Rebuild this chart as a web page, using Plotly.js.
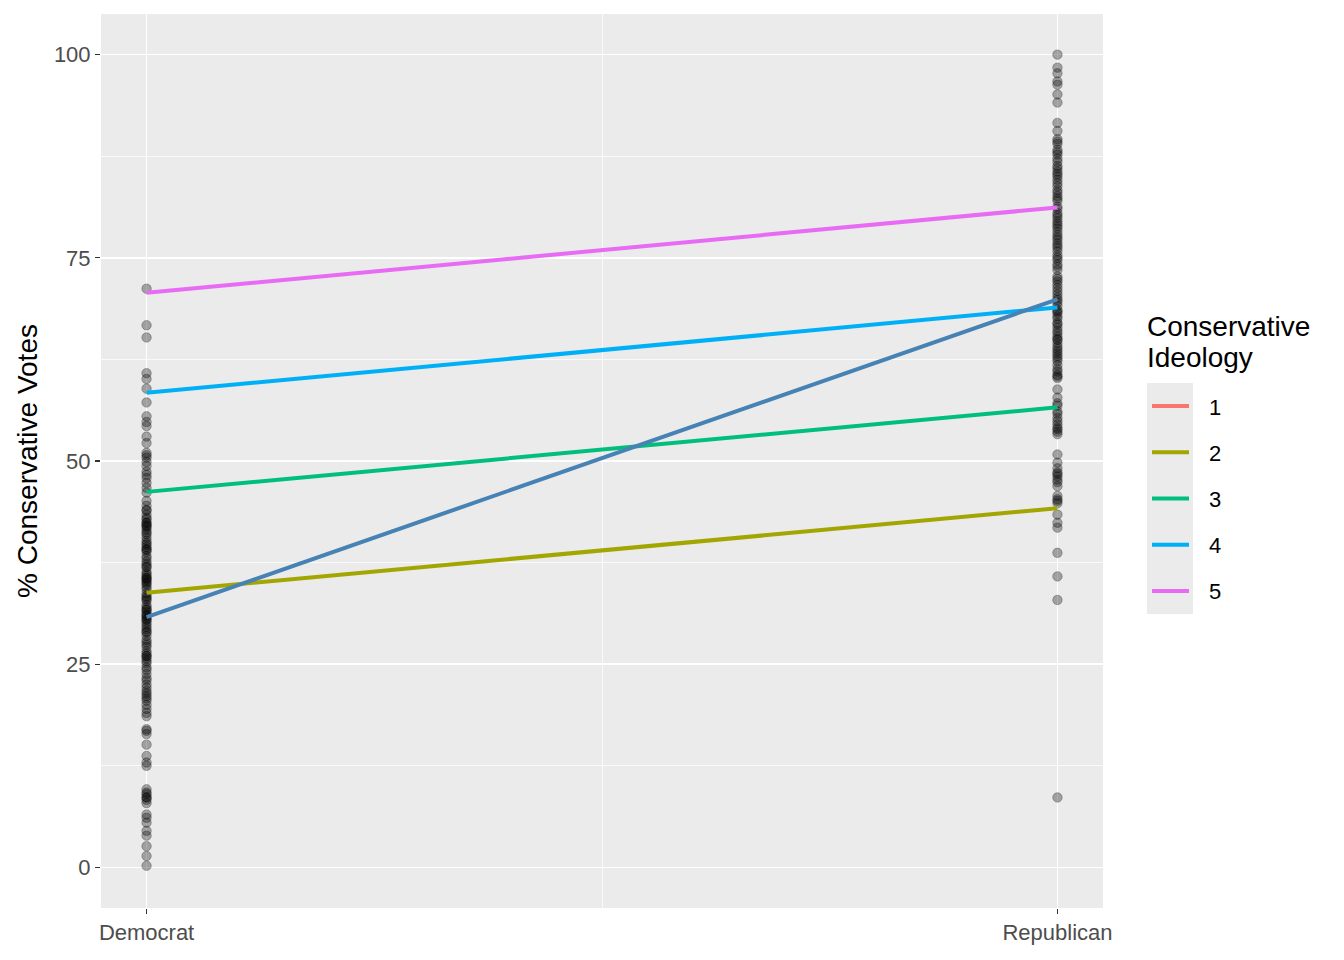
<!DOCTYPE html>
<html>
<head>
<meta charset="utf-8">
<script src="https://cdn.plot.ly/plotly-3.0.1.min.js"></script>
<style>html,body{margin:0;padding:0;background:#fff;} #chart{width:1344px;height:960px;}</style>
</head>
<body>
<div id="chart"></div>
<script>
// ---- data ----
const partyLabels = ["Democrat", "Republican"];
const partyPositions = [1, 2];

const democratVotes = [71.2, 66.7, 65.2, 60.8, 60.1, 58.9, 57.2, 55.5, 54.8, 54.3, 53.0, 52.2, 51.0, 50.7, 50.4, 49.9,
  49.4, 48.7, 48.3, 47.9, 47.3, 46.7, 46.1, 45.1, 44.5, 44.0, 43.9, 43.4, 43.0, 42.8, 42.4, 42.4, 42.1, 42.0,
  41.8, 41.5, 41.2, 41.0, 40.6, 40.2, 39.9, 39.7, 39.4, 39.1, 39.1, 38.8, 38.3, 38.0, 37.6, 37.3, 37.0, 36.9,
  36.4, 36.1, 35.9, 35.6, 35.6, 35.4, 35.2, 35.0, 34.8, 34.5, 34.2, 33.7, 33.4, 33.2, 33.0, 32.8, 32.3, 32.0,
  31.7, 31.7, 31.4, 31.1, 31.0, 30.8, 30.5, 30.5, 30.2, 29.9, 29.6, 29.3, 29.0, 28.9, 28.5, 28.0, 27.7, 27.4,
  27.1, 26.6, 26.3, 26.0, 26.0, 25.7, 25.4, 25.1, 24.6, 24.3, 23.8, 23.3, 23.0, 22.5, 22.1, 21.7, 21.4, 21.1,
  20.8, 20.5, 20.0, 19.5, 19.0, 18.6, 17.0, 16.8, 16.4, 15.1, 13.7, 12.9, 12.5, 9.6, 9.2, 9.0, 8.6, 8.6, 8.3,
  7.9, 6.5, 6.1, 5.5, 4.5, 3.9, 2.6, 1.4, 0.2];

const republicanVotes = [100.0, 98.4, 97.7, 96.7, 96.3, 95.1, 94.1, 91.6, 90.6, 89.6, 89.3, 89.0, 88.3, 88.0, 87.7,
  87.2, 86.8, 86.3, 86.0, 85.6, 85.3, 85.0, 84.6, 84.2, 83.8, 83.3, 83.0, 82.6, 82.3, 82.0, 81.3, 81.0, 80.5,
  80.2, 79.9, 79.5, 79.2, 78.9, 78.6, 78.2, 77.8, 77.5, 77.2, 76.8, 76.5, 76.2, 75.8, 75.3, 75.0, 74.7, 74.2,
  73.9, 73.5, 72.7, 72.4, 72.1, 71.7, 71.3, 70.9, 70.5, 70.1, 69.8, 69.5, 69.1, 68.6, 68.4, 68.2, 67.8, 67.5,
  67.0, 66.8, 66.4, 66.0, 65.7, 65.3, 65.0, 64.9, 64.5, 64.1, 63.8, 63.5, 63.2, 62.9, 62.6, 62.3, 61.8, 61.3,
  61.0, 60.6, 60.4, 60.2, 58.8, 57.8, 57.1, 56.8, 56.1, 55.8, 55.3, 54.9, 54.5, 54.1, 53.9, 53.6, 53.3, 50.8,
  49.8, 49.1, 48.6, 48.4, 48.1, 47.7, 47.4, 46.9, 45.7, 45.3, 45.1, 44.8, 43.4, 42.4, 41.8, 38.7, 35.8, 32.9, 8.6];

const ideologyLevels = ["1", "2", "3", "4", "5"];
const ideologyColors = ["#F8766D", "#A3A500", "#00BF7D", "#00B0F6", "#E76BF3"];
// fitted values per ideology level: [Democrat, Republican]; level 1 not drawn
const ideologyDem = [null, 33.8, 46.2, 58.4, 70.7];
const ideologyRep = [null, 44.2, 56.6, 68.9, 81.2];

const overallFit = [30.8, 69.9];

const yTicks = [0, 25, 50, 75, 100];
const legendTitleLines = ["Conservative", "Ideology"];

// ---- traces ----
const FONT = "Liberation Sans, Arial, sans-serif";
const traces = [];
const pointMarker = {size: 9.5, color: "rgba(0,0,0,0.32)", line: {width: 0.7, color: "rgba(0,0,0,0.38)"}};
traces.push({
  type: "scatter", mode: "markers",
  x: democratVotes.map(() => partyPositions[0]), y: democratVotes,
  marker: pointMarker, showlegend: false, hoverinfo: "y"
});
traces.push({
  type: "scatter", mode: "markers",
  x: republicanVotes.map(() => partyPositions[1]), y: republicanVotes,
  marker: pointMarker, showlegend: false, hoverinfo: "y"
});
ideologyLevels.forEach((lvl, i) => {
  if (ideologyDem[i] === null) return;
  traces.push({
    type: "scatter", mode: "lines",
    x: partyPositions, y: [ideologyDem[i], ideologyRep[i]],
    line: {color: ideologyColors[i], width: 4},
    showlegend: false, name: lvl
  });
});
traces.push({
  type: "scatter", mode: "lines",
  x: partyPositions, y: overallFit,
  line: {color: "#4682B4", width: 4},
  showlegend: false
});

// ---- manual ggplot-style legend ----
const px = x => (x - 101) / 1002;
const py = y => (908 - y) / 894;
const shapes = [];
const annotations = [];
const legX0 = 1147, legX1 = 1193, legTop = 383, itemH = 46.2;
shapes.push({type: "rect", xref: "paper", yref: "paper",
  x0: px(legX0), x1: px(legX1),
  y0: py(legTop + itemH * ideologyLevels.length), y1: py(legTop),
  fillcolor: "#EBEBEB", line: {width: 0}, layer: "below"});
ideologyLevels.forEach((lvl, i) => {
  const yc = legTop + itemH * (i + 0.5);
  shapes.push({type: "line", xref: "paper", yref: "paper",
    x0: px(1152), x1: px(1189), y0: py(yc), y1: py(yc),
    line: {color: ideologyColors[i], width: 4}});
  annotations.push({xref: "paper", yref: "paper", x: px(1207), y: py(yc + 1),
    text: lvl, showarrow: false, xanchor: "left", yanchor: "middle",
    font: {family: FONT, size: 22, color: "#000"}});
});
legendTitleLines.forEach((t, i) => {
  annotations.push({xref: "paper", yref: "paper", x: px(1145), y: py(327 + 30 * i),
    text: t, showarrow: false, xanchor: "left", yanchor: "middle", align: "left",
    font: {family: FONT, size: 28, color: "#000"}});
});

const layout = {
  width: 1344, height: 960,
  margin: {l: 101, r: 241, t: 14, b: 52, pad: 0},
  paper_bgcolor: "#FFFFFF", plot_bgcolor: "#EBEBEB",
  showlegend: false,
  font: {family: FONT},
  xaxis: {
    range: [0.95, 2.05], tickvals: partyPositions, ticktext: partyLabels,
    showgrid: true, gridcolor: "#FFFFFF", gridwidth: 1.5, zeroline: false,
    ticks: "outside", ticklen: 5, tickcolor: "#333333", tickwidth: 1.1,
    tickfont: {size: 22, color: "#4D4D4D"},
    minor: {tickvals: [1.5], showgrid: true, gridcolor: "#FFFFFF", gridwidth: 0.75, ticks: ""},
    showline: false, fixedrange: true
  },
  yaxis: {
    range: [-5, 105], tickvals: yTicks, ticktext: yTicks.map(String),
    showgrid: true, gridcolor: "#FFFFFF", gridwidth: 1.5, zeroline: false,
    ticks: "outside", ticklen: 5, tickcolor: "#333333", tickwidth: 1.1,
    tickfont: {size: 22, color: "#4D4D4D"},
    minor: {tickvals: [12.5, 37.5, 62.5, 87.5], showgrid: true, gridcolor: "#FFFFFF", gridwidth: 0.75, ticks: ""},
    title: {text: "% Conservative Votes", font: {size: 28, color: "#000"}, standoff: 8},
    showline: false, fixedrange: true
  },
  shapes: shapes,
  annotations: annotations
};

Plotly.newPlot("chart", traces, layout, {displayModeBar: false, staticPlot: true});
</script>
</body>
</html>
